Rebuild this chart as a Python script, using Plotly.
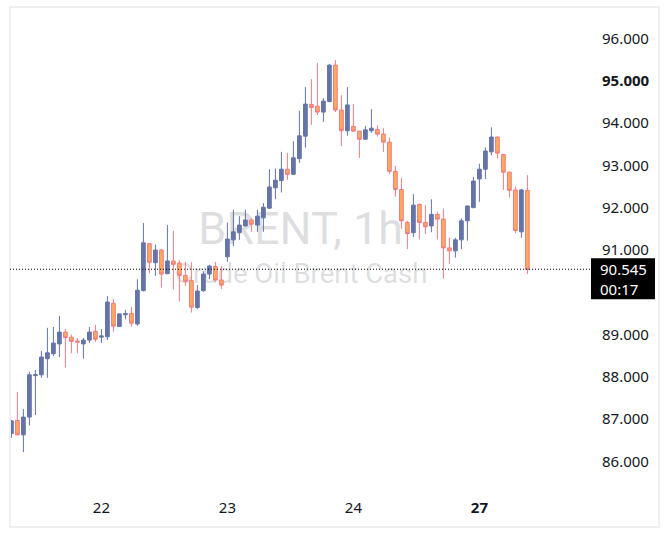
import plotly.graph_objects as go

# ---------------- data ----------------
days = ["21", "22", "23", "24", "27"]
day_first_hour = [7, 1, 1, 1, 1]
day_last_hour = [21, 21, 21, 21, 9]

opens = [86.66, 86.97, 86.63, 87.05, 88.03, 88.05, 88.43, 88.55, 88.78, 89.06,
         88.94, 88.85, 88.78, 88.87, 89.08, 88.94, 88.95, 89.74, 89.19, 89.47,
         89.50, 89.25, 90.04, 91.15, 90.70, 91.00, 90.44, 90.74, 90.69, 90.40,
         90.28, 89.64, 90.04, 90.43, 90.61, 90.29, 90.84, 91.24, 91.41, 91.57,
         91.71, 91.59, 91.76, 91.99, 92.47, 92.64, 92.91, 92.79, 93.16, 93.69,
         94.44, 94.40, 94.26, 94.51, 95.37, 94.31, 93.82, 93.92, 93.81, 93.62,
         93.82, 93.85, 93.74, 93.55, 92.86, 92.43, 91.65, 91.41, 92.08, 91.65,
         91.57, 91.84, 91.73, 91.05, 90.98, 91.24, 91.69, 92.00, 92.68, 92.91,
         93.32, 93.67, 93.26, 92.84, 92.42, 91.43, 92.41]
highs = [86.98, 87.64, 87.24, 88.12, 88.16, 88.61, 89.16, 89.18, 89.44, 89.13,
         89.00, 88.92, 88.92, 89.18, 89.23, 89.13, 89.91, 89.84, 89.50, 89.58,
         89.65, 90.31, 91.64, 91.17, 91.13, 91.02, 91.59, 91.45, 90.76, 90.72,
         90.71, 90.17, 90.50, 90.65, 90.72, 90.62, 91.65, 91.95, 91.80, 91.95,
         91.76, 91.95, 92.11, 92.91, 92.93, 93.32, 93.29, 93.57, 94.29, 94.85,
         95.04, 95.42, 94.59, 95.40, 95.49, 94.66, 94.85, 94.45, 93.81, 93.93,
         94.33, 93.95, 93.88, 93.66, 92.99, 92.70, 91.69, 92.32, 92.10, 92.06,
         92.20, 91.90, 91.98, 91.30, 91.29, 91.75, 92.05, 92.73, 93.04, 93.42,
         93.90, 93.68, 93.27, 92.85, 92.50, 92.44, 92.77]
lows = [86.56, 86.62, 86.22, 86.85, 87.10, 87.98, 87.98, 88.49, 88.47, 88.22,
        88.56, 88.56, 88.43, 88.80, 88.83, 88.80, 88.87, 89.07, 89.18, 89.36,
        89.19, 89.21, 90.02, 90.45, 90.39, 90.11, 90.43, 90.07, 89.78, 90.15,
        89.52, 89.60, 90.01, 90.31, 90.25, 90.08, 90.72, 91.09, 91.24, 91.55,
        91.43, 91.43, 91.43, 91.97, 92.20, 92.36, 92.66, 92.78, 93.06, 93.42,
        93.96, 94.19, 94.03, 94.49, 94.26, 93.46, 93.70, 93.80, 93.18, 93.62,
        93.77, 93.68, 93.32, 92.80, 92.26, 91.50, 91.02, 91.31, 91.25, 91.38,
        91.42, 91.25, 90.32, 90.67, 90.82, 91.02, 91.22, 92.00, 92.14, 92.68,
        93.24, 93.16, 92.42, 92.24, 91.40, 91.29, 90.43]
closes = [86.96, 86.63, 87.05, 88.05, 88.05, 88.47, 88.57, 88.80, 89.06, 88.93,
          88.84, 88.82, 88.87, 89.06, 88.89, 88.97, 89.77, 89.20, 89.49, 89.50,
          89.27, 90.05, 91.17, 90.71, 91.00, 90.43, 90.74, 90.66, 90.40, 90.26,
          89.65, 90.03, 90.43, 90.62, 90.29, 90.17, 91.26, 91.43, 91.59, 91.71,
          91.61, 91.80, 92.01, 92.49, 92.65, 92.91, 92.79, 93.18, 93.70, 94.45,
          94.37, 94.26, 94.52, 95.37, 94.31, 93.82, 94.43, 93.81, 93.62, 93.84,
          93.88, 93.74, 93.55, 92.86, 92.43, 91.69, 91.39, 92.06, 91.65, 91.55,
          91.84, 91.73, 91.05, 90.98, 91.24, 91.69, 92.04, 92.63, 92.91, 93.34,
          93.67, 93.29, 92.84, 92.41, 91.46, 92.42, 90.545]

price_ticks = [96, 95, 94, 93, 92, 91, 89, 88, 87, 86]
price_tick_labels = ["96.000", "<b>95.000</b>", "94.000", "93.000", "92.000",
                     "91.000", "89.000", "88.000", "87.000", "86.000"]
day_tick_labels = ["22", "23", "24", "<b>27</b>"]
last_label = "90.545<br>00:17"

# hourly bar categories
times = []
for d, h0, h1 in zip(days, day_first_hour, day_last_hour):
    for h in range(h0, h1 + 1):
        times.append(f"{d} {h:02d}:00")
day_starts = [t for t in times if t.endswith(" 01:00")]

# ---------------- style ----------------
BLUE = "#6474a8"
ORANGE = "#fbaa5c"
PINK = "#f47a80"
TXT = "#131722"
FONT = "Noto Sans"

W, H = 670, 539
L, R, T, B = 11, 82, 8, 42
pw, ph = W - L - R, H - T - B


def px_x(p):
    return (p - L) / pw


def px_y(p):
    return (H - B - p) / ph


fig = go.Figure()

# watermark (on base axes, drawn beneath the candles)
wm_color = "rgba(120,123,134,0.25)"
fig.add_trace(go.Scatter(x=[0.502], y=[0.541], mode="text", text=["BRENT, 1h"],
                         textfont=dict(family="Roboto", size=45, color=wm_color),
                         hoverinfo="skip", showlegend=False, xaxis="x", yaxis="y"))
fig.add_trace(go.Scatter(x=[0.503], y=[0.452], mode="text", text=["Crude Oil Brent Cash"],
                         textfont=dict(family="Roboto", size=27.5, color=wm_color),
                         hoverinfo="skip", showlegend=False, xaxis="x", yaxis="y"))

fig.add_trace(go.Candlestick(
    x=times, open=opens, high=highs, low=lows, close=closes,
    xaxis="x2", yaxis="y2",
    increasing=dict(line=dict(color=BLUE, width=1), fillcolor=BLUE),
    decreasing=dict(line=dict(color=PINK, width=1), fillcolor=ORANGE),
    whiskerwidth=0, showlegend=False,
))

last = closes[-1]

fig.update_layout(
    width=W, height=H,
    margin=dict(l=L, r=R, t=T, b=B),
    paper_bgcolor="white", plot_bgcolor="white",
    showlegend=False,
    boxgap=0.12,
    font=dict(family=FONT, size=15, color=TXT),
    xaxis=dict(range=[0, 1], visible=False, rangeslider=dict(visible=False)),
    yaxis=dict(range=[0, 1], visible=False),
    xaxis2=dict(overlaying="x", anchor="y2", side="bottom", type="category",
                range=[-0.067, 96.1], tickvals=day_starts, ticktext=day_tick_labels,
                showgrid=False, zeroline=False, showline=False, ticks="",
                rangeslider=dict(visible=False),
                tickfont=dict(family=FONT, size=15, color=TXT)),
    yaxis2=dict(overlaying="y", anchor="x2", side="right",
                range=[85.161, 96.721], tickvals=price_ticks, ticktext=price_tick_labels,
                showgrid=False, zeroline=False, showline=False, ticks="",
                ticklabelstandoff=13,
                tickfont=dict(family=FONT, size=15, color=TXT)),
    shapes=[
        # outer frame
        dict(type="rect", xref="paper", yref="paper",
             x0=px_x(10), x1=px_x(659), y0=px_y(527), y1=px_y(7),
             line=dict(color="#efefef", width=2), fillcolor="rgba(0,0,0,0)"),
        # last price dotted line
        dict(type="line", xref="paper", yref="y2", x0=px_x(10), x1=px_x(590),
             y0=last, y1=last, line=dict(color="#000000", width=1, dash="1px,2px")),
        # last price box
        dict(type="rect", xref="paper", yref="y2", ysizemode="pixel", yanchor=last,
             x0=px_x(591), x1=px_x(655), y0=-30, y1=11,
             line=dict(width=0), fillcolor="#000000"),
    ],
    annotations=[
        dict(x=px_x(598), xref="paper", xanchor="left", y=last, yref="y2",
             yanchor="top", yshift=12, text=last_label, showarrow=False,
             align="left", font=dict(family=FONT, size=15, color="white")),
    ],
)

fig.write_html("out.html")
